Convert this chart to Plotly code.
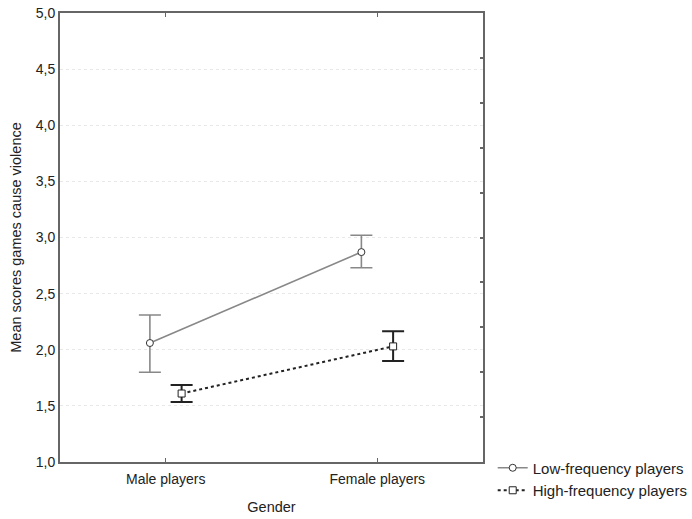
import plotly.graph_objects as go

categories = ["Male players", "Female players"]
series_names = ["Low-frequency players", "High-frequency players"]
low_mean = [2.06, 2.87]
low_upper = [2.31, 3.02]
low_lower = [1.80, 2.73]
high_mean = [1.61, 2.03]
high_upper = [1.685, 2.165]
high_lower = [1.535, 1.90]
y_ticks = [1.0, 1.5, 2.0, 2.5, 3.0, 3.5, 4.0, 4.5, 5.0]

FONT = "Liberation Sans, Arial, sans-serif"
AX = "#666666"

fig = go.Figure()
fig.add_trace(go.Scatter(
    x=categories, y=low_mean, name=series_names[0], mode="lines+markers",
    line=dict(color="#888888", width=1.6),
    marker=dict(symbol="circle", size=7, color="white", line=dict(color="#333333", width=1)),
    error_y=dict(type="data", symmetric=False,
                 array=[u - m for u, m in zip(low_upper, low_mean)],
                 arrayminus=[m - l for m, l in zip(low_mean, low_lower)],
                 color="#888888", thickness=1.6, width=11),
))
fig.add_trace(go.Scatter(
    x=categories, y=high_mean, name=series_names[1], mode="lines+markers",
    line=dict(color="#222222", width=2, dash="dot"),
    marker=dict(symbol="square", size=7, color="white", line=dict(color="#222222", width=1)),
    error_y=dict(type="data", symmetric=False,
                 array=[u - m for u, m in zip(high_upper, high_mean)],
                 arrayminus=[m - l for m, l in zip(high_mean, high_lower)],
                 color="#222222", thickness=2, width=11),
))
# invisible trace to activate the right-hand tick axis
fig.add_trace(go.Scatter(x=categories, y=[None, None], yaxis="y2", showlegend=False,
                         hoverinfo="skip", mode="markers"))

fig.update_layout(
    width=692, height=519,
    margin=dict(l=60, r=209, t=13, b=57, autoexpand=False),
    paper_bgcolor="white", plot_bgcolor="white",
    font=dict(family=FONT, size=14, color="#222222"),
    separators=", ",
    scattermode="group", scattergap=0.7,
    showlegend=True,
    legend=dict(xref="container", yref="container", x=0.712, xanchor="left",
                y=0.13, yanchor="top",
                font=dict(size=15, family=FONT, color="#222222"),
                bgcolor="rgba(0,0,0,0)", tracegroupgap=0, itemwidth=30),
    xaxis=dict(
        type="category", range=[-0.5, 1.5], automargin=False,
        showline=True, linecolor=AX, linewidth=2, mirror="ticks",
        ticks="inside", ticklen=4, tickcolor=AX, tickwidth=1,
        showgrid=False, zeroline=False, ticklabelstandoff=3,
        tickfont=dict(size=14),
        title=dict(text="Gender", font=dict(size=14.5), standoff=16),
    ),
    yaxis=dict(
        range=[1.0, 5.0], tickvals=y_ticks, tickformat=".1f", automargin=False,
        showline=True, linecolor=AX, linewidth=2, mirror=True,
        ticks="", showgrid=True, gridcolor="#e8e8e8", griddash="dot", gridwidth=1,
        zeroline=False, tickfont=dict(size=14),
        title=dict(text="Mean scores games cause violence", font=dict(size=14.5), standoff=11),
    ),
    yaxis2=dict(
        overlaying="y", side="right", range=[1.0, 5.0], dtick=0.4, tick0=1.0,
        ticks="inside", ticklen=3, tickcolor=AX, tickwidth=1.5, automargin=False,
        showticklabels=False, showgrid=False, zeroline=False, showline=False,
    ),
)

fig.write_html("out.html")
